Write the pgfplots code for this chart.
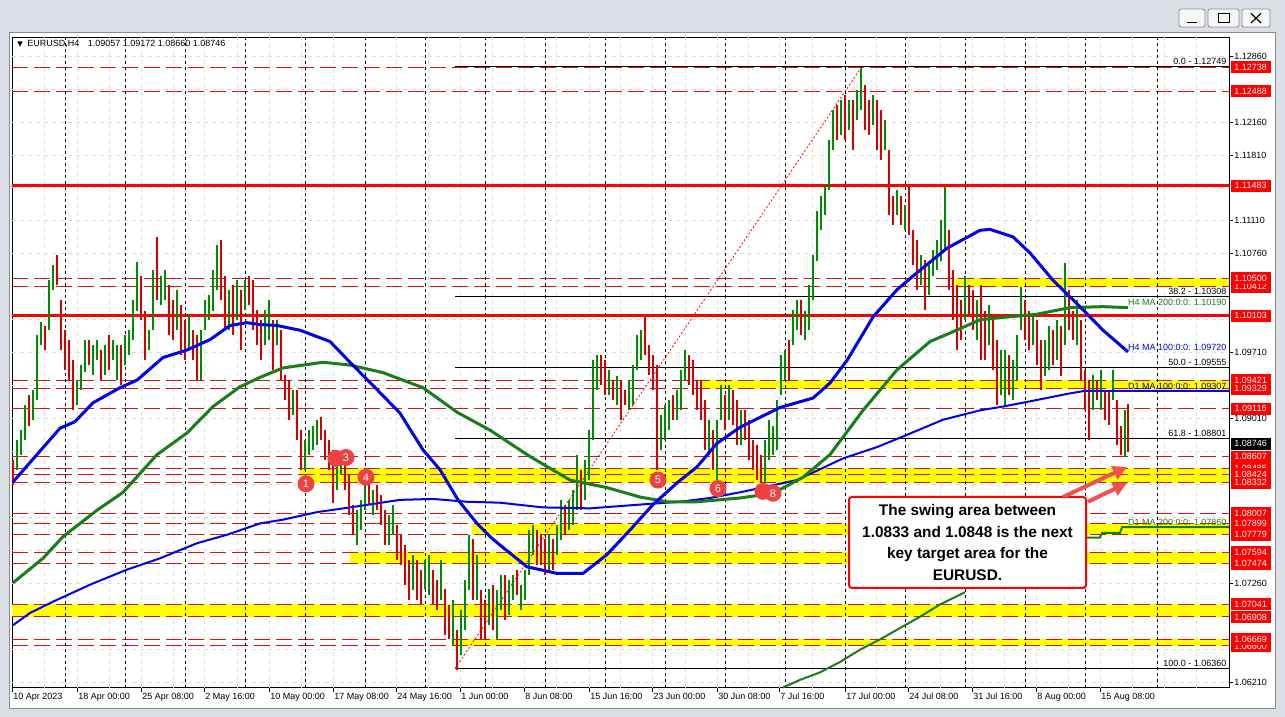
\documentclass[border=0pt]{standalone}
\usepackage{pgfplots}
\pgfplotsset{compat=1.18}
\usepackage{pgfplotstable}
\usepackage{fontspec}
\setmainfont{Liberation Sans}
\newfontfamily\dejavu{DejaVu Sans}
\usetikzlibrary{arrows.meta}

\definecolor{frame}{RGB}{218,223,230}
\definecolor{lvlred}{RGB}{215,20,20}
\definecolor{barred}{RGB}{215,0,0}
\definecolor{bargreen}{RGB}{0,140,0}
\definecolor{magreen}{RGB}{25,125,25}
\definecolor{mablue}{RGB}{0,0,230}
\definecolor{bullet}{RGB}{238,66,66}
\definecolor{arrowred}{RGB}{240,80,80}
\definecolor{myyellow}{RGB}{255,255,0}
\newcommand\sm{\fontsize{4.5}{5.4}\selectfont}

\pgfplotstableread{
x lo hi up
13 1.0831 1.0857 0
17 1.0847 1.0879 1
21 1.0863 1.0889 1
25 1.0879 1.0916 1
29 1.0894 1.0926 0
33 1.0900 1.0932 1
37 1.0921 1.0990 1
41 1.0979 1.1004 1
45 1.0974 1.1000 0
49 1.0995 1.1048 1
53 1.1038 1.1064 1
57 1.1043 1.1075 0
61 1.0974 1.1027 0
65 1.0953 1.0995 0
69 1.0942 1.0985 0
73 1.0910 1.0963 0
77 1.0916 1.0942 1
81 1.0932 1.0958 1
85 1.0951 1.0985 1
89 1.0958 1.0985 0
93 1.0947 1.0979 1
97 1.0963 1.0985 1
101 1.0942 1.0974 0
105 1.0947 1.0979 1
109 1.0953 1.0990 0
113 1.0963 1.0985 1
117 1.0942 1.0979 1
121 1.0937 1.0979 0
125 1.0958 1.0990 1
129 1.0969 1.0995 1
133 1.0985 1.1027 1
137 1.1016 1.1067 1
141 1.1006 1.1053 0
145 1.0963 1.1016 0
149 1.0974 1.0995 1
153 1.0995 1.1059 1
157 1.1027 1.1094 0
161 1.1022 1.1053 1
165 1.1027 1.1059 1
169 1.0990 1.1043 0
173 1.0985 1.1027 0
177 1.0995 1.1038 1
181 1.0969 1.1022 0
185 1.0963 1.1006 0
189 1.0974 1.1011 1
193 1.0963 1.0995 0
197 1.0942 1.0990 0
201 1.0942 1.0995 1
205 1.0995 1.1027 1
209 1.1006 1.1032 1
213 1.1016 1.1059 1
217 1.1038 1.1085 1
221 1.1027 1.1091 0
225 1.0995 1.1053 0
229 1.0995 1.1038 1
233 1.0990 1.1043 0
237 1.1006 1.1048 1
241 1.0974 1.1038 0
245 1.1016 1.1048 1
249 1.1022 1.1053 0
253 1.0995 1.1048 0
257 1.0979 1.1016 0
261 1.0963 1.1006 0
265 1.0979 1.1016 1
269 1.0985 1.1027 1
273 1.0953 1.1006 0
277 1.0979 1.1006 1
281 1.0942 1.0995 0
285 1.0921 1.0947 0
289 1.0900 1.0942 0
293 1.0905 1.0932 1
297 1.0879 1.0932 0
301 1.0847 1.0889 0
305 1.0847 1.0879 1
309 1.0863 1.0889 1
313 1.0868 1.0894 1
317 1.0873 1.0900 1
321 1.0879 1.0903 0
325 1.0857 1.0889 0
329 1.0847 1.0879 0
333 1.0812 1.0868 0
337 1.0826 1.0857 1
341 1.0841 1.0863 1
345 1.0826 1.0863 0
349 1.0799 1.0841 0
353 1.0778 1.0810 0
357 1.0767 1.0804 1
361 1.0783 1.0815 1
365 1.0804 1.0831 1
369 1.0810 1.0836 0
373 1.0799 1.0826 1
377 1.0804 1.0831 0
381 1.0788 1.0820 0
385 1.0767 1.0804 0
389 1.0767 1.0799 1
393 1.0778 1.0810 1
397 1.0751 1.0788 0
401 1.0746 1.0778 0
405 1.0725 1.0767 0
409 1.0709 1.0751 0
413 1.0720 1.0757 1
417 1.0709 1.0751 0
421 1.0704 1.0741 0
425 1.0720 1.0751 1
429 1.0714 1.0757 1
433 1.0704 1.0741 0
437 1.0698 1.0730 0
441 1.0709 1.0751 1
445 1.0672 1.0720 0
449 1.0667 1.0704 0
453 1.0661 1.0709 1
457 1.0635 1.0677 0
461 1.0651 1.0698 1
465 1.0677 1.0730 1
469 1.0720 1.0778 1
473 1.0709 1.0773 0
477 1.0709 1.0757 1
481 1.0667 1.0720 0
485 1.0667 1.0709 0
489 1.0682 1.0720 1
493 1.0677 1.0725 0
497 1.0667 1.0720 1
501 1.0698 1.0735 1
505 1.0688 1.0735 0
509 1.0693 1.0730 1
513 1.0709 1.0735 1
517 1.0714 1.0741 0
521 1.0698 1.0725 1
525 1.0709 1.0741 1
529 1.0735 1.0783 1
533 1.0757 1.0788 1
537 1.0746 1.0783 0
541 1.0746 1.0778 0
545 1.0735 1.0773 0
549 1.0741 1.0778 1
553 1.0741 1.0773 0
557 1.0757 1.0788 1
561 1.0773 1.0815 1
565 1.0778 1.0810 0
569 1.0783 1.0815 1
573 1.0788 1.0826 1
577 1.0804 1.0863 1
581 1.0804 1.0847 0
585 1.0815 1.0857 1
589 1.0836 1.0889 1
593 1.0879 1.0963 1
597 1.0932 1.0969 1
601 1.0937 1.0969 0
605 1.0926 1.0963 0
609 1.0926 1.0953 1
613 1.0921 1.0942 0
617 1.0916 1.0947 1
621 1.0900 1.0942 0
625 1.0916 1.0932 0
629 1.0910 1.0942 1
633 1.0916 1.0958 1
637 1.0953 1.0990 1
641 1.0963 1.0995 1
645 1.0969 1.1009 0
649 1.0947 1.0979 0
653 1.0932 1.0969 0
657 1.0847 1.0958 0
661 1.0868 1.0905 1
665 1.0879 1.0916 1
669 1.0889 1.0921 1
673 1.0900 1.0926 0
677 1.0900 1.0932 1
681 1.0910 1.0953 1
685 1.0942 1.0974 1
689 1.0937 1.0969 0
693 1.0926 1.0963 0
697 1.0910 1.0942 0
701 1.0900 1.0942 0
705 1.0868 1.0921 0
709 1.0863 1.0900 1
713 1.0847 1.0889 0
717 1.0836 1.0900 1
721 1.0900 1.0937 1
725 1.0889 1.0926 0
729 1.0900 1.0937 1
733 1.0894 1.0932 0
737 1.0873 1.0921 0
741 1.0873 1.0910 1
745 1.0879 1.0910 0
749 1.0857 1.0900 0
753 1.0847 1.0879 0
757 1.0836 1.0873 0
761 1.0833 1.0863 0
765 1.0833 1.0879 1
769 1.0857 1.0900 1
773 1.0863 1.0894 1
777 1.0868 1.0921 1
781 1.0926 1.0969 1
785 1.0942 1.0974 1
789 1.0942 1.0985 0
793 1.0979 1.1016 1
797 1.0995 1.1027 1
801 1.0990 1.1027 0
805 1.0985 1.1016 1
809 1.0995 1.1043 1
813 1.1027 1.1075 1
817 1.1069 1.1122 1
821 1.1101 1.1138 1
825 1.1117 1.1149 1
829 1.1144 1.1197 1
833 1.1186 1.1229 1
837 1.1197 1.1234 0
841 1.1202 1.1239 1
845 1.1197 1.1245 0
849 1.1207 1.1239 1
853 1.1186 1.1239 0
857 1.1218 1.1250 1
861 1.1229 1.1273 1
865 1.1207 1.1255 0
869 1.1202 1.1239 0
873 1.1213 1.1245 1
877 1.1186 1.1239 0
881 1.1176 1.1229 0
885 1.1186 1.1218 1
889 1.1117 1.1186 0
893 1.1107 1.1138 0
897 1.1117 1.1144 1
901 1.1107 1.1138 0
905 1.1101 1.1128 1
909 1.1096 1.1147 0
913 1.1064 1.1101 0
917 1.1038 1.1091 0
921 1.1043 1.1075 1
925 1.1016 1.1069 0
929 1.1032 1.1064 1
933 1.1053 1.1080 1
937 1.1059 1.1091 1
941 1.1069 1.1112 1
945 1.1080 1.1147 1
949 1.1038 1.1101 0
953 1.1006 1.1059 0
957 1.0974 1.1043 0
961 1.0985 1.1027 0
965 1.1006 1.1053 1
969 1.1011 1.1043 0
973 1.0995 1.1038 0
977 1.0985 1.1027 1
981 1.0963 1.1043 0
985 1.0963 1.1016 0
989 1.0979 1.1022 1
993 1.0953 1.1006 0
997 1.0916 1.0985 0
1001 1.0926 1.0974 1
1005 1.0916 1.0974 1
1009 1.0926 1.0969 0
1013 1.0921 1.0963 1
1017 1.0942 1.0990 1
1021 1.0995 1.1041 1
1025 1.0985 1.1027 0
1029 1.0974 1.1016 0
1033 1.0979 1.1011 1
1037 1.0958 1.1006 0
1041 1.0932 1.0985 0
1045 1.0947 1.0985 1
1049 1.0953 1.1000 1
1053 1.0958 1.0995 0
1057 1.0963 1.1006 1
1061 1.0947 1.1000 0
1065 1.0979 1.1066 1
1069 1.0995 1.1038 0
1073 1.0985 1.1016 0
1077 1.0979 1.1027 1
1081 1.0942 1.1006 0
1085 1.0910 1.0953 0
1089 1.0879 1.0942 0
1093 1.0910 1.0947 1
1097 1.0921 1.0942 0
1101 1.0910 1.0953 1
1105 1.0900 1.0932 0
1109 1.0894 1.0932 0
1113 1.0921 1.0953 1
1117 1.0873 1.0921 0
1121 1.0863 1.0894 0
1125 1.0861 1.0910 1
1128 1.0866 1.0917 0
}\bars

\begin{document}
\begin{tikzpicture}[x=1pt,y=1pt,
  mk/.style={circle, fill=bullet, minimum size=8.5pt, inner sep=0pt, text=white, font=\fontsize{5.5}{5.5}\selectfont},
  plab/.style={anchor=west, fill=red, text=white, minimum width=20pt, minimum height=6pt, inner sep=0pt, font=\sm, xshift=0.6pt},
  malab/.style={anchor=south east, inner sep=0.6pt, font=\sm}]
\useasboundingbox (-6,-14.5) rectangle (636.5,344);
\fill[frame] (-6,-14.5) rectangle (636.5,344);
\fill[white] (-1.5,-10.5) rectangle (631.5,327.5);
\draw[black!45,line width=0.5pt] (-1.5,-10.5) rectangle (631.5,327.5);
\foreach \a/\b in {583.5/596.5,598/613.5,615/629}{\draw[black!45,fill=black!3,rounded corners=1pt,line width=0.4pt] (\a,330.5) rectangle (\b,339.5);}
\draw[line width=0.8pt] (587.5,332.8) -- (592.5,332.8);
\draw[line width=0.5pt] (603,332.5) rectangle (608.5,337.3);
\draw[line width=0.6pt] (619.5,332.5) -- (624.5,337.3) (619.5,337.3) -- (624.5,332.5);

\begin{axis}[
  scale only axis, width=608.5pt, height=325.5pt,
  xmin=12, xmax=1229, ymin=1.06154, ymax=1.13061,
  clip=false,
  axis line style={black, line width=0.5pt},
  tick align=outside, major tick length=2pt,
  tick style={black, line width=0.4pt},
  xtick pos=lower, ytick pos=upper, yticklabel pos=upper,
  scaled ticks=false,
  xtick={12,77,141,204,269,333,396,460,524,589,652,717,779,845,908,972,1036,1100},
  xticklabels={10 Apr 2023,18 Apr 00:00,25 Apr 08:00,2 May 16:00,10 May 00:00,17 May 08:00,24 May 16:00,1 Jun 00:00,8 Jun 08:00,15 Jun 16:00,23 Jun 00:00,30 Jun 08:00,7 Jul 16:00,17 Jul 00:00,24 Jul 08:00,31 Jul 16:00,8 Aug 00:00,15 Aug 08:00},
  xticklabel style={anchor=north west, font=\sm, inner sep=0pt, xshift=0.5pt, yshift=-0.5pt},
  ytick={1.0621,1.0726,1.0901,1.0971,1.1076,1.1111,1.1181,1.1216,1.1286},
  yticklabels={1.06210,1.07260,1.09010,1.09710,1.10760,1.11110,1.11810,1.12160,1.12860},
  yticklabel style={anchor=west, font=\sm, inner sep=0pt, xshift=0.5pt},
]
% grid
\pgfplotsinvokeforeach{1.0621,1.0656,1.0691,1.0726,1.0761,1.0796,1.0831,1.0866,1.0901,1.0936,1.0971,1.1006,1.1041,1.1076,1.1111,1.1146,1.1181,1.1216,1.1251,1.1286}{
  \draw[black!13, line width=0.4pt, dash pattern=on 2pt off 2pt] (axis cs:12,#1) -- (axis cs:1229,#1);}
\pgfplotsinvokeforeach{44,77,109,141,173,204,237,269,301,333,365,396,428,460,492,524,556,589,620,652,685,717,748,779,812,845,876,908,940,972,1004,1036,1068,1100,1132,1164,1196}{
  \draw[black!13, line width=0.4pt, dash pattern=on 2pt off 2pt] (axis cs:#1,1.06154) -- (axis cs:#1,1.13061);}
% yellow zones
\fill[myyellow] (axis cs:955,1.10412) rectangle (axis cs:1229,1.10500);
\fill[myyellow] (axis cs:700,1.09329) rectangle (axis cs:1229,1.09421);
\fill[myyellow] (axis cs:300,1.08332) rectangle (axis cs:1229,1.08485);
\fill[myyellow] (axis cs:472,1.07779) rectangle (axis cs:1229,1.07899);
\fill[myyellow] (axis cs:350,1.07474) rectangle (axis cs:1229,1.07594);
\fill[myyellow] (axis cs:12,1.06908) rectangle (axis cs:1229,1.07041);
\fill[myyellow] (axis cs:452,1.06600) rectangle (axis cs:1229,1.06669);
% red dashed levels
\pgfplotsinvokeforeach{1.12738,1.12488,1.10500,1.10412,1.09421,1.09329,1.09116,1.08607,1.08485,1.08424,1.08332,1.08007,1.07899,1.07779,1.07594,1.07474,1.07041,1.06908,1.06669,1.06600}{
  \draw[lvlred, line width=0.5pt, dash pattern=on 8pt off 3pt] (axis cs:12,#1) -- (axis cs:1229,#1);}
% solid red levels
\draw[red, line width=1.5pt] (axis cs:12,1.11483) -- (axis cs:1229,1.11483);
\draw[red, line width=1.5pt] (axis cs:12,1.10103) -- (axis cs:1229,1.10103);
% fibonacci
\pgfplotsinvokeforeach{1.12749,1.10308,1.09555,1.08801,1.06360}{
  \draw[black, line width=0.5pt] (axis cs:455,#1) -- (axis cs:1229,#1);}
\draw[red, line width=0.4pt, dash pattern=on 1pt off 1pt] (axis cs:455,1.0636) -- (axis cs:862,1.12749);
% period separators
\pgfplotsinvokeforeach{65,125,185,245,305,365,425,485,545,605,665,725,785,845,905,965,1025,1085,1157}{
  \draw[black, line width=0.5pt, dash pattern=on 1.5pt off 1.5pt] (axis cs:#1,1.06154) -- (axis cs:#1,1.13061);}
% bars
\addplot[draw=none, no markers, forget plot, restrict expr to domain={\thisrow{up}}{1:1},
  error bars/.cd, y dir=both, y explicit, error mark=none,
  error bar style={draw=bargreen, solid, line width=0.75pt}]
  table[x=x, y expr={(\thisrow{hi}+\thisrow{lo})/2}, y error expr={(\thisrow{hi}-\thisrow{lo})/2}] {\bars};
\addplot[draw=none, no markers, forget plot, restrict expr to domain={\thisrow{up}}{0:0},
  error bars/.cd, y dir=both, y explicit, error mark=none,
  error bar style={draw=barred, solid, line width=0.75pt}]
  table[x=x, y expr={(\thisrow{hi}+\thisrow{lo})/2}, y error expr={(\thisrow{hi}-\thisrow{lo})/2}] {\bars};
% D1 MA 100
\addplot[mablue, line width=1pt, mark=none, line join=round] coordinates {
(13,1.0682) (30,1.0695) (53,1.0707) (90,1.0725) (127,1.0741) (160,1.0753) (197,1.0769) (227,1.0778) (260,1.0790) (283,1.0794) (317,1.0802) (350,1.0807) (400,1.0815) (433,1.0816) (467,1.0813) (500,1.0812) (543,1.0807) (590,1.0806) (640,1.0810) (680,1.0813) (710,1.0817) (740,1.0823) (797,1.0836) (843,1.0859) (877,1.0871) (907,1.0884) (943,1.0900) (980,1.0910) (1003,1.0914) (1037,1.0921) (1070,1.0928) (1085,1.09307) (1229,1.09307)};
% D1 MA 200
\addplot[magreen, line width=1pt, mark=none, line join=round] coordinates {
(783,1.0616) (800,1.0624) (820,1.0632) (840,1.0643) (860,1.0656) (880,1.0667) (900,1.0679) (920,1.0691) (940,1.0704) (965,1.0717)};
\addplot[magreen, line width=1pt, mark=none] coordinates {
(1087,1.0775) (1100,1.0775) (1102,1.0780) (1120,1.0780) (1122,1.0786) (1229,1.0786)};
% H4 MA 200
\addplot[magreen, line width=1.5pt, mark=none, line join=round] coordinates {
(13,1.0727) (43,1.0753) (63,1.0776) (97,1.0804) (123,1.0823) (157,1.0863) (187,1.0886) (213,1.0914) (240,1.0935) (260,1.0945) (283,1.0955) (323,1.0961) (350,1.0958) (383,1.0950) (423,1.0934) (457,1.0908) (490,1.0889) (530,1.0861) (570,1.0836) (607,1.0828) (640,1.0818) (667,1.0813) (697,1.0813) (740,1.0817) (773,1.0822) (803,1.0839) (830,1.0863) (863,1.0910) (897,1.0953) (930,1.0983) (950,1.0992) (980,1.1006) (997,1.1008) (1037,1.1012) (1070,1.1019) (1103,1.1020) (1128,1.1019)};
% H4 MA 100
\addplot[mablue, line width=1.5pt, mark=none, line join=round] coordinates {
(13,1.0834) (60,1.0891) (75,1.0898) (93,1.0918) (120,1.0934) (137,1.0942) (163,1.0966) (187,1.0974) (210,1.0985) (230,1.1000) (247,1.1003) (260,1.1001) (277,1.1000) (300,1.0995) (330,1.0983) (350,1.0961) (377,1.0932) (400,1.0907) (423,1.0868) (440,1.0847) (458,1.0815) (477,1.0790) (490,1.0776) (500,1.0767) (527,1.0744) (557,1.0737) (583,1.0737) (607,1.0757) (630,1.0783) (653,1.0810) (677,1.0833) (697,1.0850) (717,1.0875) (740,1.0892) (780,1.0913) (813,1.0923) (830,1.0939) (847,1.0963) (873,1.1009) (897,1.1038) (917,1.1056) (947,1.1082) (980,1.1101) (990,1.1102) (1013,1.1094) (1030,1.1077) (1053,1.1048) (1080,1.1020) (1103,1.0995) (1128,1.0972)};
% indicator and fibo labels
\node[malab, text=magreen] at (axis cs:1228,1.10190) {H4 MA 200:0:0: 1.10190};
\node[malab, text=mablue] at (axis cs:1228,1.09720) {H4 MA 100:0:0: 1.09720};
\node[malab, text=mablue!45!black] at (axis cs:1228,1.09307) {D1 MA 100:0:0: 1.09307};
\node[malab, text=magreen] at (axis cs:1228,1.07860) {D1 MA 200:0:0: 1.07860};
\node[malab] at (axis cs:1228,1.12749) {0.0 - 1.12749};
\node[malab] at (axis cs:1228,1.10308) {38.2 - 1.10308};
\node[malab] at (axis cs:1228,1.09555) {50.0 - 1.09555};
\node[malab] at (axis cs:1228,1.08801) {61.8 - 1.08801};
\node[malab] at (axis cs:1228,1.06360) {100.0 - 1.06360};
% numbered swing lows
\node[mk] at (axis cs:306,1.0832) {1};
\node[mk] at (axis cs:336,1.0859) {};
\node[mk] at (axis cs:346,1.0860) {3};
\node[mk] at (axis cs:366,1.0839) {4};
\node[mk] at (axis cs:658,1.0836) {5};
\node[mk] at (axis cs:718,1.0827) {6};
\node[mk] at (axis cs:763,1.0824) {};
\node[mk] at (axis cs:773,1.0822) {8};
% comment box and arrows
\node[draw=red, line width=1pt, fill=white, rounded corners=1.5pt, minimum width=118.5pt, minimum height=45.5pt, align=center, inner sep=0pt,
  font=\bfseries\fontsize{7.7}{10.75}\selectfont] at (axis cs:967.5,1.07698)
  {The swing area between\\1.0833 and 1.0848 is the next\\key target area for the\\EURUSD.};
\draw[arrowred, line width=2pt, -{Triangle[length=7pt,width=7pt]}] (axis cs:1063,1.0818) -- (axis cs:1127,1.0850);
\draw[arrowred, line width=2pt, -{Triangle[length=7pt,width=7pt]}] (axis cs:1088,1.0813) -- (axis cs:1127,1.0833);
% price labels on the right scale
\node[plab] at (axis cs:1229,1.12738) {1.12738};
\node[plab] at (axis cs:1229,1.12488) {1.12488};
\node[plab] at (axis cs:1229,1.11483) {1.11483};
\node[plab] at (axis cs:1229,1.10412) {1.10412};
\node[plab] at (axis cs:1229,1.10500) {1.10500};
\node[plab] at (axis cs:1229,1.10103) {1.10103};
\node[plab] at (axis cs:1229,1.09421) {1.09421};
\node[plab] at (axis cs:1229,1.09329) {1.09329};
\node[plab] at (axis cs:1229,1.09116) {1.09116};
\node[plab] at (axis cs:1229,1.08485) {1.08485};
\node[plab] at (axis cs:1229,1.08607) {1.08607};
\node[plab] at (axis cs:1229,1.08424) {1.08424};
\node[plab] at (axis cs:1229,1.08332) {1.08332};
\node[plab] at (axis cs:1229,1.08007) {1.08007};
\node[plab] at (axis cs:1229,1.07899) {1.07899};
\node[plab] at (axis cs:1229,1.07779) {1.07779};
\node[plab] at (axis cs:1229,1.07594) {1.07594};
\node[plab] at (axis cs:1229,1.07474) {1.07474};
\node[plab] at (axis cs:1229,1.07041) {1.07041};
\node[plab] at (axis cs:1229,1.06908) {1.06908};
\node[plab] at (axis cs:1229,1.06600) {1.06600};
\node[plab] at (axis cs:1229,1.06669) {1.06669};
\node[plab, fill=black] at (axis cs:1229,1.08746) {1.08746};
% header
\node[anchor=west, inner sep=0pt, font=\sm] at (axis cs:17,1.12987)
  {{\dejavu\fontsize{3.6}{4}\selectfont ▼}\hspace{2.2pt}EURUSD,H4\hspace{3pt} 1.09057 1.09172 1.08660 1.08746};
\end{axis}
\end{tikzpicture}
\end{document}
